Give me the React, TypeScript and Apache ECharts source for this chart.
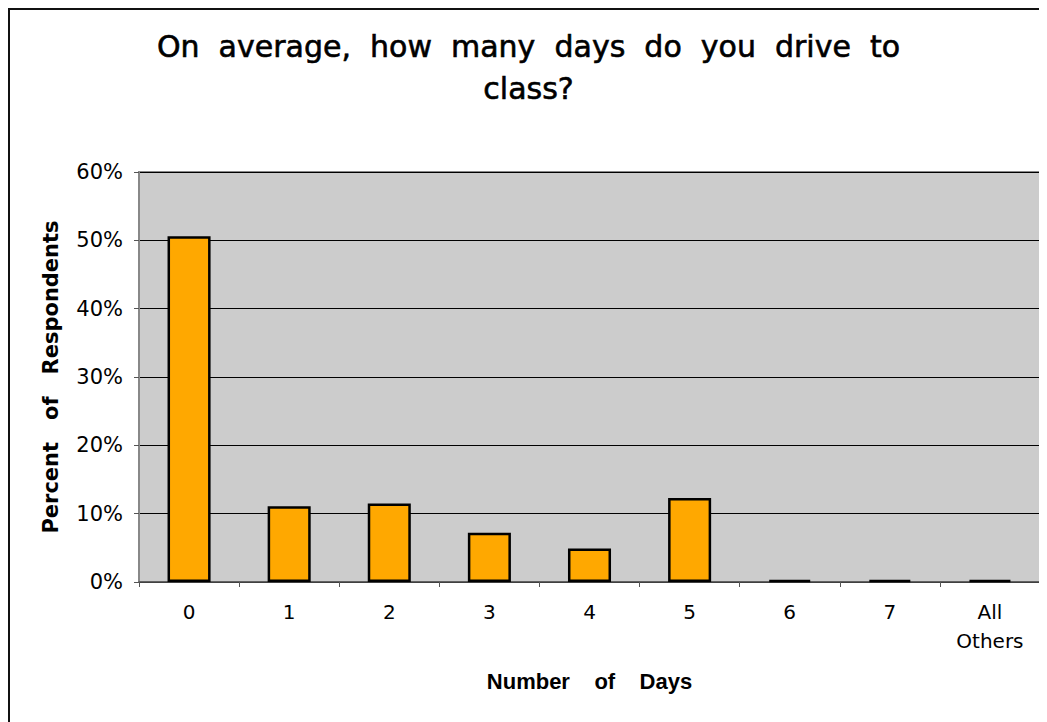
import React, { useEffect, useRef } from "react";
import * as echarts from "echarts";

const categories = ["0", "1", "2", "3", "4", "5", "6", "7", "All\nOthers"];
const percentValues = [50.6, 11.1, 11.5, 7.2, 4.9, 12.3, 0.3, 0.3, 0.3];
const yTickMax = 60;
const yTickInterval = 10;

const chartTitle = "On  average,  how  many  days  do  you  drive  to\nclass?";
const xAxisTitle = "Number    of    Days";
const yAxisTitle = "Percent   of   Respondents";

export default function App() {
  const ref = useRef<HTMLDivElement>(null);

  useEffect(() => {
    if (!ref.current) return;
    const chart = echarts.init(ref.current, null, { renderer: "svg" });
    chart.setOption({
      animation: false,
      backgroundColor: "#ffffff",
      title: {
        text: chartTitle,
        left: "center",
        top: 10,
        textStyle: {
          fontFamily: "'DejaVu Sans', sans-serif",
          fontSize: 30,
          fontWeight: "normal",
          color: "#000",
          lineHeight: 42,
          textBorderColor: "#000",
          textBorderWidth: 0.6,
        },
      },
      grid: {
        left: 129,
        right: 7,
        top: 162,
        bottom: 140,
        show: true,
        backgroundColor: "#cccccc",
        borderColor: "#888888",
        borderWidth: 2,
      },
      xAxis: {
        type: "category",
        data: categories,
        name: xAxisTitle,
        nameLocation: "middle",
        nameGap: 88,
        nameTextStyle: {
          fontFamily: "'Liberation Sans', Arial, sans-serif",
          fontWeight: "bold",
          fontSize: 22,
          color: "#000",
        },
        axisLine: { show: true, lineStyle: { color: "#555", width: 1.5 } },
        axisTick: { show: true, length: 5, lineStyle: { color: "#555" }, alignWithLabel: false },
        axisLabel: {
          fontFamily: "'DejaVu Sans', Verdana, sans-serif",
          fontSize: 20,
          color: "#000",
          margin: 15,
          lineHeight: 29,
          interval: 0,
        },
        splitLine: { show: false },
      },
      yAxis: {
        type: "value",
        min: 0,
        max: yTickMax,
        interval: yTickInterval,
        name: yAxisTitle,
        nameLocation: "middle",
        nameGap: 78,
        nameTextStyle: {
          fontFamily: "'DejaVu Sans', sans-serif",
          fontWeight: "bold",
          fontSize: 21,
          color: "#000",
        },
        axisLine: { show: true, lineStyle: { color: "#888", width: 2 } },
        axisTick: { show: true, length: 5, lineStyle: { color: "#555" } },
        axisLabel: {
          formatter: "{value}%",
          fontFamily: "'DejaVu Sans', Verdana, sans-serif",
          fontSize: 21,
          color: "#000",
          margin: 16,
        },
        splitLine: { show: true, lineStyle: { color: "#000", width: 1 } },
      },
      series: [
        {
          type: "bar",
          data: percentValues,
          barWidth: "43%",
          itemStyle: {
            color: "#FFA800",
            borderColor: "#000",
            borderWidth: 2.5,
          },
        },
      ],
    });
    return () => chart.dispose();
  }, []);

  return (
    <div
      style={{
        width: 1039,
        height: 714,
        borderLeft: "2px solid #111",
        borderTop: "2px solid #111",
        boxSizing: "border-box",
        overflow: "hidden",
      }}
    >
      <div ref={ref} style={{ width: 1037, height: 712 }} />
    </div>
  );
}
